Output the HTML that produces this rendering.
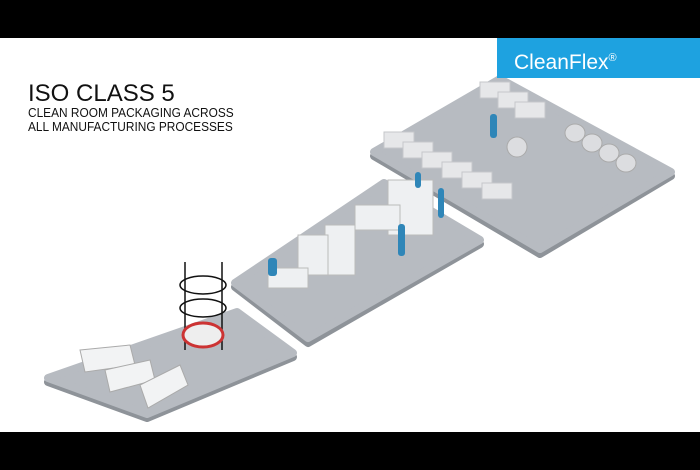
<!DOCTYPE html>
<html><head><style>
html,body{margin:0;padding:0;}
body{width:700px;height:470px;background:#000;position:relative;overflow:hidden;font-family:"Liberation Sans",sans-serif;}
#w{position:absolute;left:0;top:38px;width:700px;height:394px;background:#fff;}
#logo{position:absolute;left:497px;top:38px;width:203px;height:40px;background:#1ea2e0;color:#fff;font-size:21px;line-height:40px;padding-left:17px;box-sizing:border-box;}
#logo sup{font-size:11px;}
.t{position:absolute;left:28px;color:#111;white-space:nowrap;transform-origin:0 0;}
</style></head><body>
<div id="w"></div>
<svg style="position:absolute;left:0;top:0" width="700" height="470">
<g stroke-linejoin="round">
<polygon points="374,156 500,83 671,176 540,254" fill="#8e9399" stroke="#8e9399" stroke-width="8"/>
<polygon points="374,152 500,79 671,172 540,249" fill="#b7bbc1" stroke="#b7bbc1" stroke-width="8"/>
<polygon points="235,287 384,187 480,244 308,343" fill="#8e9399" stroke="#8e9399" stroke-width="8"/>
<polygon points="235,283 384,183 480,240 308,338" fill="#b7bbc1" stroke="#b7bbc1" stroke-width="8"/>
<polygon points="48,382 237,316 293,357 147,418" fill="#8e9399" stroke="#8e9399" stroke-width="8"/>
<polygon points="48,378 237,312 293,353 147,414" fill="#b7bbc1" stroke="#b7bbc1" stroke-width="8"/>
</g>
<g fill="#e6e7e9" stroke="#c5c7ca" stroke-width="1">
<rect x="480" y="82" width="30" height="16"/><rect x="498" y="92" width="30" height="16"/><rect x="515" y="102" width="30" height="16"/>
<rect x="384" y="132" width="30" height="16"/><rect x="403" y="142" width="30" height="16"/><rect x="422" y="152" width="30" height="16"/>
<rect x="442" y="162" width="30" height="16"/><rect x="462" y="172" width="30" height="16"/><rect x="482" y="183" width="30" height="16"/>
</g>
<g fill="#dcdde0" stroke="#aaa" stroke-width="1">
<ellipse cx="575" cy="133" rx="10" ry="9"/><ellipse cx="592" cy="143" rx="10" ry="9"/><ellipse cx="609" cy="153" rx="10" ry="9"/><ellipse cx="626" cy="163" rx="10" ry="9"/>
<ellipse cx="517" cy="147" rx="10" ry="10"/>
</g>
<g fill="#eef0f2" stroke="#bbb" stroke-width="1">
<rect x="388" y="180" width="45" height="55"/>
<rect x="355" y="205" width="45" height="25"/>
<rect x="325" y="225" width="30" height="50"/>
<rect x="298" y="235" width="30" height="40"/>
<rect x="268" y="268" width="40" height="20"/>
</g>
<g fill="#2f86b8">
<rect x="490" y="114" width="7" height="24" rx="3"/>
<rect x="438" y="188" width="6" height="30" rx="3"/>
<rect x="398" y="224" width="7" height="32" rx="3"/>
<rect x="268" y="258" width="9" height="18" rx="3"/>
<rect x="415" y="172" width="6" height="16" rx="3"/>
</g>
<g fill="none" stroke="#111" stroke-width="1.5">
<line x1="185" y1="262" x2="185" y2="350"/><line x1="222" y1="262" x2="222" y2="350"/>
<ellipse cx="203" cy="285" rx="23" ry="9"/><ellipse cx="203" cy="308" rx="23" ry="9"/>
</g>
<ellipse cx="203" cy="335" rx="20" ry="12" fill="#eee" stroke="#c33" stroke-width="3"/>
<g fill="#f2f3f4" stroke="#aaa" stroke-width="1">
<polygon points="80,350 130,345 135,365 85,372"/>
<polygon points="105,370 150,360 155,380 110,392"/>
<polygon points="140,385 180,365 188,385 148,408"/>
</g>
</svg>
<div id="logo">CleanFlex<sup>®</sup></div>
<div class="t" style="top:80px;font-size:24px;transform:scaleX(1.0);">ISO CLASS 5</div>
<div class="t" style="top:106px;font-size:12.5px;transform:scaleX(0.95);">CLEAN ROOM PACKAGING ACROSS</div>
<div class="t" style="top:120px;font-size:12.5px;transform:scaleX(0.95);">ALL MANUFACTURING PROCESSES</div>
</body></html>
